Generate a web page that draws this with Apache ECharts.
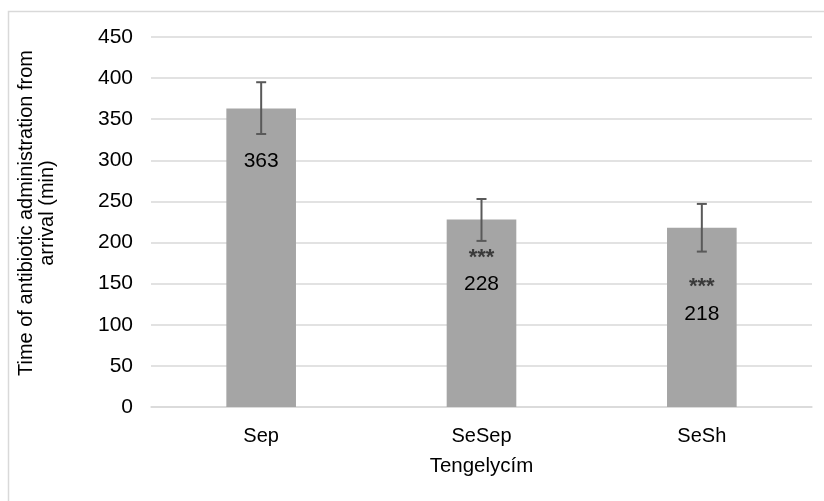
<!DOCTYPE html>
<html><head><meta charset="utf-8">
<script src="https://cdn.jsdelivr.net/npm/echarts@6/dist/echarts.min.js"></script>
<style>html,body{margin:0;padding:0;background:#fff}#c{width:824px;height:501px}</style>
</head><body><div id="c"></div>
<script>
const categories = ['Sep', 'SeSep', 'SeSh'];
const means = [363, 228, 218];
const errLow = [332, 202, 189];
const errHigh = [395, 253, 247];
const sigMarks = ['', '***', '***'];
const yTicks = { min: 0, max: 450, interval: 50 };

const labelOffsets = [[0, 34], [0, 20], [0, 41]];
const FONT = '"Liberation Sans", Arial, sans-serif';

const chart = echarts.init(document.getElementById('c'), null, { renderer: 'canvas' });
const barData = means.map((v, i) => ({
  value: v,
  label: {
    offset: labelOffsets[i],
    formatter: sigMarks[i] ? '{s|' + sigMarks[i] + '}\n{v|' + v + '}' : '{v|' + v + '}'
  }
}));
const errData = categories.map((c, i) => [i, errLow[i], errHigh[i]]);

chart.setOption({
  animation: false,
  backgroundColor: '#fff',
  graphic: [{
    type: 'rect', shape: { x: 8.5, y: 11.5, width: 830, height: 510 },
    style: { fill: 'none', stroke: '#d9d9d9', lineWidth: 1.5 }, silent: true
  }],
  grid: { left: 151, right: 12, top: 37, bottom: 94, containLabel: false },
  xAxis: {
    type: 'category', data: categories,
    name: 'Tengelycím', nameLocation: 'middle', nameGap: 49,
    nameTextStyle: { fontFamily: FONT, fontSize: 20.5, color: '#000' },
    axisLine: { lineStyle: { color: '#d9d9d9', width: 1.5 } },
    axisTick: { show: false },
    axisLabel: { fontFamily: FONT, fontSize: 20, color: '#000', margin: 19 }
  },
  yAxis: {
    type: 'value', min: yTicks.min, max: yTicks.max, interval: yTicks.interval,
    name: 'Time of antibiotic administration from\narrival (min)',
    nameLocation: 'middle', nameGap: 93, nameRotate: 90,
    nameTextStyle: { fontFamily: FONT, fontSize: 20, color: '#000', lineHeight: 21, padding: [0, 0, 0, 18] },
    axisLine: { show: false }, axisTick: { show: false },
    axisLabel: { fontFamily: FONT, fontSize: 21, color: '#000', margin: 18 },
    splitLine: { lineStyle: { color: '#d9d9d9', width: 1.5 } }
  },
  series: [{
    type: 'bar', data: barData, barWidth: '31.6%',
    itemStyle: { color: '#a5a5a5' },
    label: {
      show: true, position: 'insideTop', color: '#000', fontFamily: FONT,
      rich: {
        s: { fontFamily: FONT, fontSize: 22, fontWeight: 'bold', color: '#3a3a3a', lineHeight: 26, align: 'center' },
        v: { fontFamily: FONT, fontSize: 21, color: '#000', lineHeight: 28, align: 'center' }
      }
    },
    z: 2
  }, {
    type: 'custom', data: errData, z: 5,
    renderItem: function (params, api) {
      const x = api.coord([api.value(0), 0])[0];
      const lo = api.coord([api.value(0), api.value(1)])[1];
      const hi = api.coord([api.value(0), api.value(2)])[1];
      const w = 5;
      const st = { stroke: '#595959', lineWidth: 2 };
      return { type: 'group', children: [
        { type: 'line', shape: { x1: x, y1: lo, x2: x, y2: hi }, style: st },
        { type: 'line', shape: { x1: x - w, y1: lo, x2: x + w, y2: lo }, style: st },
        { type: 'line', shape: { x1: x - w, y1: hi, x2: x + w, y2: hi }, style: st }
      ]};
    }
  }]
});
</script></body></html>
